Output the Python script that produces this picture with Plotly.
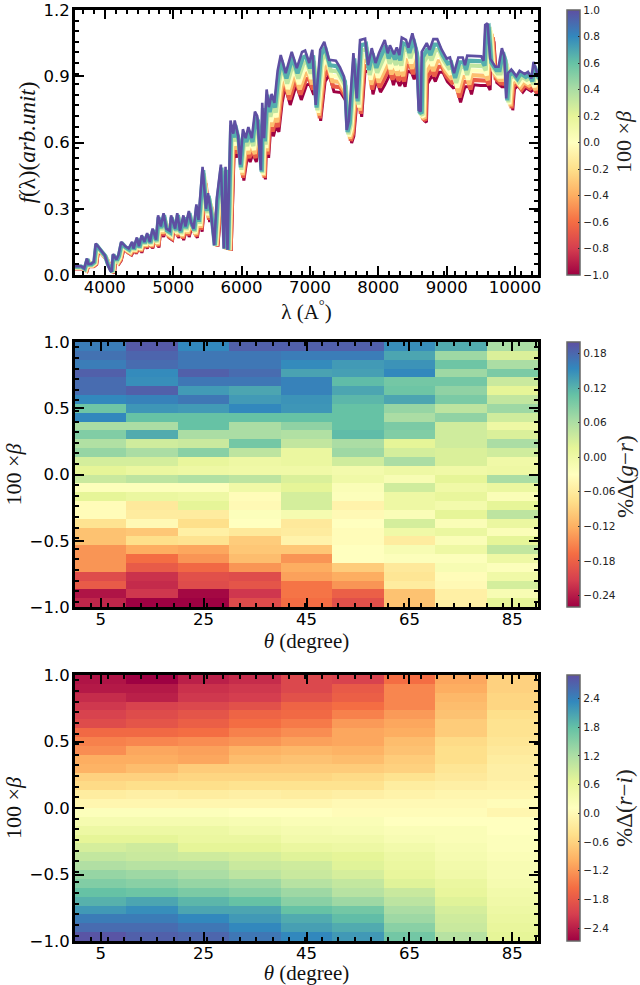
import plotly.graph_objects as go
from plotly.colors import sample_colorscale

spectral = ["#9e0142","#d53e4f","#f46d43","#fdae61","#fee08b","#ffffbf","#e6f598","#abdda4","#66c2a5","#3288bd","#5e4fa2"]
cs = [[i/10, c] for i, c in enumerate(spectral)]

betas = [1.0, 0.667, 0.333, 0.0, -0.333, -0.667, -1.0]

wave_p100 = [3520,3650,3700,3740,3760,3800,3840,3868,3900,3950,4000,4040,4080,4100,4120,4170,4200,4240,4300,4350,4400,4420,4470,4500,4540,4580,4620,4660,4700,4750,4780,4820,4860,4900,4950,4970,5030,5060,5100,5150,5180,5230,5260,5300,5340,5370,5400,5430,5480,5510,5550,5600,5640,5698,5741,5766,5795,5839,5880,5900,5950,5980,6020,6060,6100,6150,6196,6230,6283,6303,6330,6367,6400,6440,6480,6528,6573,6646,6734,6808,6885,6930,6990,7035,7085,7150,7210,7280,7380,7440,7500,7538,7570,7636,7685,7733,7807,7850,7904,7960,8010,8094,8138,8170,8230,8270,8308,8343,8405,8440,8498,8552,8590,8620,8635,8708,8750,8805,8862,8927,9000,9048,9107,9170,9234,9267,9300,9400,9505,9539,9563,9597,9636,9710,9758,9807,9842,9870,9895,9945,10018,10066,10140,10188,10237,10270,10335]
flux_p100 = [.040,.040,.030,.075,.050,.050,.060,.143,.130,.110,.090,.050,.020,.015,.095,.070,.090,.150,.130,.120,.150,.120,.170,.130,.180,.150,.190,.150,.210,.160,.270,.220,.280,.210,.200,.270,.210,.280,.200,.270,.220,.290,.240,.210,.320,.250,.370,.490,.300,.370,.290,.135,.350,.500,.120,.490,.115,.700,.640,.700,.630,.500,.660,.620,.670,.620,.740,.720,.475,.780,.620,.840,.760,.820,.780,.925,.996,.914,1.010,.937,1.010,1.016,.960,1.020,.770,1.020,1.056,.974,.970,.940,.898,.657,.700,1.005,.800,1.064,1.070,.950,1.027,.960,1.005,1.064,1.004,1.040,1.000,1.030,.996,1.075,1.065,1.030,1.094,1.027,.747,.740,1.010,1.050,1.020,1.068,1.068,1.020,.980,.985,.914,.985,.985,.950,.993,.990,.990,.970,1.132,1.140,.980,.943,.943,1.027,.990,.800,.914,.930,.900,.925,.910,.920,.890,.965,.900]

wave_p067 = [3527,3657,3707,3747,3767,3807,3847,3875,3907,3957,4007,4047,4087,4107,4127,4177,4207,4247,4307,4357,4407,4427,4477,4507,4547,4587,4627,4667,4707,4757,4787,4827,4867,4907,4957,4977,5039,5069,5109,5159,5189,5239,5269,5309,5349,5379,5409,5439,5489,5519,5559,5609,5649,5707,5750,5775,5804,5848,5889,5909,5959,5989,6031,6071,6111,6161,6207,6241,6294,6314,6341,6378,6411,6451,6491,6539,6584,6657,6745,6819,6896,6941,7001,7047,7097,7162,7222,7292,7392,7452,7512,7550,7582,7648,7697,7745,7819,7862,7916,7972,8024,8108,8152,8184,8244,8284,8322,8357,8419,8454,8512,8566,8604,8634,8649,8722,8764,8819,8876,8941,9016,9064,9123,9186,9250,9283,9316,9416,9521,9555,9579,9613,9652,9726,9774,9823,9858,9886,9911,9961,10034,10082,10156,10204,10253,10286,10351]
flux_p067 = [.038,.038,.028,.072,.048,.048,.058,.138,.125,.106,.086,.048,.019,.014,.091,.067,.086,.145,.125,.115,.145,.116,.164,.125,.174,.145,.183,.145,.203,.154,.261,.212,.271,.203,.193,.261,.203,.271,.193,.261,.212,.280,.232,.203,.309,.241,.358,.475,.290,.358,.280,.134,.338,.486,.119,.476,.114,.678,.622,.678,.612,.488,.640,.602,.650,.602,.716,.698,.468,.756,.605,.816,.738,.796,.758,.901,.972,.890,.985,.913,.985,.991,.936,.995,.758,.996,1.031,.950,.946,.916,.876,.647,.688,.981,.786,1.040,1.046,.928,1.003,.938,.981,1.039,.980,1.016,.976,1.006,.972,1.050,1.040,1.006,1.069,1.003,.739,.732,.986,1.026,.996,1.043,1.043,.996,.958,.963,.892,.963,.963,.928,.971,.968,.968,.948,1.118,1.125,.962,.928,.928,1.008,.972,.791,.902,.918,.888,.912,.897,.907,.877,.945,.888]

wave_p033 = [3534,3664,3714,3754,3774,3814,3854,3882,3914,3964,4014,4054,4094,4114,4134,4184,4214,4254,4314,4364,4414,4434,4484,4514,4554,4594,4634,4674,4714,4764,4794,4834,4874,4914,4964,4984,5048,5078,5118,5168,5198,5248,5278,5318,5358,5388,5418,5448,5498,5528,5568,5618,5658,5716,5759,5784,5813,5857,5898,5918,5968,5998,6042,6082,6122,6172,6218,6252,6305,6325,6352,6389,6422,6462,6502,6550,6595,6668,6756,6830,6907,6952,7012,7059,7109,7174,7234,7304,7404,7464,7524,7562,7594,7660,7709,7757,7831,7874,7928,7984,8038,8122,8166,8198,8258,8298,8336,8371,8433,8468,8526,8580,8618,8648,8663,8736,8778,8833,8890,8955,9032,9080,9139,9202,9266,9299,9332,9432,9537,9571,9595,9629,9668,9742,9790,9839,9874,9902,9927,9977,10050,10098,10172,10220,10269,10302,10367]
flux_p033 = [.036,.036,.026,.069,.046,.046,.056,.133,.120,.102,.082,.046,.018,.013,.087,.064,.082,.140,.120,.110,.140,.112,.158,.120,.168,.140,.176,.140,.196,.148,.252,.204,.262,.196,.186,.252,.196,.262,.186,.252,.204,.270,.224,.196,.298,.232,.346,.460,.280,.346,.270,.133,.326,.472,.118,.462,.113,.656,.604,.656,.594,.476,.620,.584,.630,.584,.692,.676,.461,.732,.590,.792,.716,.772,.736,.877,.948,.866,.960,.889,.960,.966,.912,.970,.746,.972,1.006,.926,.922,.892,.854,.637,.676,.957,.772,1.016,1.022,.906,.979,.916,.957,1.014,.956,.992,.952,.982,.948,1.025,1.015,.982,1.044,.979,.731,.724,.962,1.002,.972,1.018,1.018,.972,.936,.941,.870,.941,.941,.906,.949,.946,.946,.926,1.104,1.110,.944,.913,.913,.989,.954,.782,.890,.906,.876,.899,.884,.894,.864,.925,.876]

wave_000 = [3541,3671,3721,3761,3781,3821,3861,3889,3921,3971,4021,4061,4101,4121,4141,4191,4221,4261,4321,4371,4421,4441,4491,4521,4561,4601,4641,4681,4721,4771,4801,4841,4881,4921,4971,4991,5057,5087,5127,5177,5207,5257,5287,5327,5367,5397,5427,5457,5507,5537,5577,5627,5667,5725,5768,5793,5822,5866,5907,5927,5977,6007,6053,6093,6133,6183,6229,6263,6316,6336,6363,6400,6433,6473,6513,6561,6606,6679,6767,6841,6918,6963,7023,7071,7121,7186,7246,7316,7416,7476,7536,7574,7606,7672,7721,7769,7843,7886,7940,7996,8052,8136,8180,8212,8272,8312,8350,8385,8447,8482,8540,8594,8632,8662,8677,8750,8792,8847,8904,8969,9048,9096,9155,9218,9282,9315,9348,9448,9553,9587,9611,9645,9684,9758,9806,9855,9890,9918,9943,9993,10066,10114,10188,10236,10285,10318,10383]
flux_000 = [.034,.034,.024,.066,.044,.044,.054,.128,.115,.098,.078,.044,.017,.012,.083,.061,.078,.135,.115,.105,.135,.108,.152,.115,.162,.135,.169,.135,.189,.142,.243,.196,.253,.189,.179,.243,.189,.253,.179,.243,.196,.260,.216,.189,.287,.223,.334,.445,.270,.334,.260,.132,.314,.458,.117,.448,.112,.634,.586,.634,.576,.464,.600,.566,.610,.566,.668,.654,.454,.708,.575,.768,.694,.748,.714,.853,.924,.842,.935,.865,.935,.941,.888,.945,.734,.948,.981,.902,.898,.868,.832,.627,.664,.933,.758,.992,.998,.884,.955,.894,.933,.989,.932,.968,.928,.958,.924,1.000,.990,.958,1.019,.955,.723,.716,.938,.978,.948,.993,.993,.948,.914,.919,.848,.919,.919,.884,.927,.924,.924,.904,1.090,1.095,.926,.898,.898,.970,.936,.773,.878,.894,.864,.886,.871,.881,.851,.905,.864]

wave_m033 = [3548,3678,3728,3768,3788,3828,3868,3896,3928,3978,4028,4068,4108,4128,4148,4198,4228,4268,4328,4378,4428,4448,4498,4528,4568,4608,4648,4688,4728,4778,4808,4848,4888,4928,4978,4998,5066,5096,5136,5186,5216,5266,5296,5336,5376,5406,5436,5466,5516,5546,5586,5636,5676,5734,5777,5802,5831,5875,5916,5936,5986,6016,6064,6104,6144,6194,6240,6274,6327,6347,6374,6411,6444,6484,6524,6572,6617,6690,6778,6852,6929,6974,7034,7083,7133,7198,7258,7328,7428,7488,7548,7586,7618,7684,7733,7781,7855,7898,7952,8008,8066,8150,8194,8226,8286,8326,8364,8399,8461,8496,8554,8608,8646,8676,8691,8764,8806,8861,8918,8983,9064,9112,9171,9234,9298,9331,9364,9464,9569,9603,9627,9661,9700,9774,9822,9871,9906,9934,9959,10009,10082,10130,10204,10252,10301,10334,10399]
flux_m033 = [.032,.032,.022,.063,.042,.042,.052,.123,.110,.094,.074,.042,.016,.011,.079,.058,.074,.130,.110,.100,.130,.104,.146,.110,.156,.130,.162,.130,.182,.136,.234,.188,.244,.182,.172,.234,.182,.244,.172,.234,.188,.250,.208,.182,.276,.214,.322,.430,.260,.322,.250,.131,.302,.444,.116,.434,.111,.612,.568,.612,.558,.452,.580,.548,.590,.548,.644,.632,.447,.684,.560,.744,.672,.724,.692,.829,.900,.818,.910,.841,.910,.916,.864,.920,.722,.924,.956,.878,.874,.844,.810,.617,.652,.909,.744,.968,.974,.862,.931,.872,.909,.964,.908,.944,.904,.934,.900,.975,.965,.934,.994,.931,.715,.708,.914,.954,.924,.968,.968,.924,.892,.897,.826,.897,.897,.862,.905,.902,.902,.882,1.076,1.080,.908,.883,.883,.951,.918,.764,.866,.882,.852,.873,.858,.868,.838,.885,.852]

wave_m067 = [3555,3685,3735,3775,3795,3835,3875,3903,3935,3985,4035,4075,4115,4135,4155,4205,4235,4275,4335,4385,4435,4455,4505,4535,4575,4615,4655,4695,4735,4785,4815,4855,4895,4935,4985,5005,5075,5105,5145,5195,5225,5275,5305,5345,5385,5415,5445,5475,5525,5555,5595,5645,5685,5743,5786,5811,5840,5884,5925,5945,5995,6025,6075,6115,6155,6205,6251,6285,6338,6358,6385,6422,6455,6495,6535,6583,6628,6701,6789,6863,6940,6985,7045,7095,7145,7210,7270,7340,7440,7500,7560,7598,7630,7696,7745,7793,7867,7910,7964,8020,8080,8164,8208,8240,8300,8340,8378,8413,8475,8510,8568,8622,8660,8690,8705,8778,8820,8875,8932,8997,9080,9128,9187,9250,9314,9347,9380,9480,9585,9619,9643,9677,9716,9790,9838,9887,9922,9950,9975,10025,10098,10146,10220,10268,10317,10350,10415]
flux_m067 = [.030,.030,.020,.060,.040,.040,.050,.118,.105,.090,.070,.040,.015,.010,.075,.055,.070,.125,.105,.095,.125,.100,.140,.105,.150,.125,.155,.125,.175,.130,.225,.180,.235,.175,.165,.225,.175,.235,.165,.225,.180,.240,.200,.175,.265,.205,.310,.415,.250,.310,.240,.130,.290,.430,.115,.420,.110,.590,.550,.590,.540,.440,.560,.530,.570,.530,.620,.610,.440,.660,.545,.720,.650,.700,.670,.805,.876,.794,.885,.817,.885,.891,.840,.895,.710,.900,.931,.854,.850,.820,.788,.607,.640,.885,.730,.944,.950,.840,.907,.850,.885,.939,.884,.920,.880,.910,.876,.950,.940,.910,.969,.907,.707,.700,.890,.930,.900,.943,.943,.900,.870,.875,.804,.875,.875,.840,.883,.880,.880,.860,1.062,1.065,.890,.868,.868,.932,.900,.755,.854,.870,.840,.860,.845,.855,.825,.865,.840]

wave_m100 = [3562,3692,3742,3782,3802,3842,3882,3910,3942,3992,4042,4082,4122,4142,4162,4212,4242,4282,4342,4392,4442,4462,4512,4542,4582,4622,4662,4702,4742,4792,4822,4862,4902,4942,4992,5012,5084,5114,5154,5204,5234,5284,5314,5354,5394,5424,5454,5484,5534,5564,5604,5654,5694,5752,5795,5820,5849,5893,5934,5954,6004,6034,6086,6126,6166,6216,6262,6296,6349,6369,6396,6433,6466,6506,6546,6594,6639,6712,6800,6874,6951,6996,7056,7107,7157,7222,7282,7352,7452,7512,7572,7610,7642,7708,7757,7805,7879,7922,7976,8032,8094,8178,8222,8254,8314,8354,8392,8427,8489,8524,8582,8636,8674,8704,8719,8792,8834,8889,8946,9011,9096,9144,9203,9266,9330,9363,9396,9496,9601,9635,9659,9693,9732,9806,9854,9903,9938,9966,9991,10041,10114,10162,10236,10284,10333,10366,10431]
flux_m100 = [.028,.028,.018,.057,.038,.038,.048,.113,.100,.086,.066,.038,.014,.009,.071,.052,.066,.120,.100,.090,.120,.096,.134,.100,.144,.120,.148,.120,.168,.124,.216,.172,.226,.168,.158,.216,.168,.226,.158,.216,.172,.230,.192,.168,.254,.196,.298,.400,.240,.298,.230,.129,.278,.416,.114,.406,.109,.568,.532,.568,.522,.428,.540,.512,.550,.512,.596,.588,.433,.636,.530,.696,.628,.676,.648,.781,.852,.770,.860,.793,.860,.866,.816,.870,.698,.876,.906,.830,.826,.796,.766,.597,.628,.861,.716,.920,.926,.818,.883,.828,.861,.914,.860,.896,.856,.886,.852,.925,.915,.886,.944,.883,.699,.692,.866,.906,.876,.918,.918,.876,.848,.853,.782,.853,.853,.818,.861,.858,.858,.838,1.048,1.050,.872,.853,.853,.913,.882,.746,.842,.858,.828,.847,.832,.842,.812,.845,.828]

waves = [wave_p100, wave_p067, wave_p033, wave_000, wave_m033, wave_m067, wave_m100]
fluxes = [flux_p100, flux_p067, flux_p033, flux_000, flux_m033, flux_m067, flux_m100]
for w, f in zip(waves, fluxes):
    assert len(w) == len(f), (len(w), len(f))

theta = [5, 15, 25, 35, 45, 55, 65, 75, 85]

# rows listed from the top of the panel (beta near +1) to the bottom
delta_gr = [
[.163,.191,.154,.186,.186,.186,.149,.126,.062],
[.172,.182,.168,.168,.163,.163,.131,.071,.025],
[.163,.177,.168,.168,.152,.140,.145,.103,.062],
[.186,.152,.186,.177,.133,.136,.154,.071,.094],
[.177,.149,.168,.168,.159,.113,.099,.099,.039],
[.177,.186,.140,.131,.159,.131,.103,.080,.016],
[.154,.159,.168,.140,.145,.117,.131,.094,.044],
[.103,.143,.140,.154,.143,.108,.076,.048,.071],
[.154,.108,.108,.108,.108,.108,.062,.080,.034],
[.062,.062,.108,.062,.080,.108,.094,.034,.002],
[.090,.126,.062,.062,.057,.113,.090,.034,.025],
[.057,.034,.039,.099,.044,.062,.016,.034,.062],
[.076,.062,.085,.048,.007,.071,.030,.025,.034],
[.030,.030,.011,.002,.007,.034,.062,.025,-.002],
[.016,.007,.002,-.002,-.002,-.007,.002,-.002,.002],
[.039,.048,.057,.048,.025,-.002,-.016,.016,.062],
[-.025,-.025,-.025,-.002,.016,-.021,.034,-.002,.007],
[.016,.007,.002,-.035,.030,-.025,.002,.011,-.021],
[-.035,-.062,.016,-.039,.030,-.048,.002,-.007,.016],
[-.035,-.058,-.058,-.025,-.012,-.039,-.021,.016,.048],
[-.071,-.039,-.076,-.030,-.062,-.030,.030,-.021,.007],
[-.104,-.099,-.053,-.062,-.058,-.035,-.002,.007,-.021],
[-.104,-.076,-.071,-.094,-.048,-.035,-.058,-.021,.016],
[-.140,-.122,-.127,-.099,-.099,-.030,-.016,.002,.044],
[-.140,-.168,-.140,-.108,-.140,-.030,-.025,-.025,.002],
[-.140,-.186,-.173,-.140,-.122,-.094,-.062,-.016,-.025],
[-.200,-.223,-.196,-.200,-.131,-.122,-.067,-.035,-.002],
[-.186,-.228,-.200,-.191,-.163,-.140,-.058,-.039,.030],
[-.246,-.219,-.255,-.219,-.163,-.182,-.104,-.053,-.016],
[-.232,-.260,-.260,-.200,-.168,-.196,-.104,-.053,.016],
]

delta_ri = [
[-2.50,-2.67,-2.39,-2.28,-2.00,-2.06,-1.56,-1.06,-.61],
[-2.45,-2.45,-2.23,-2.17,-2.00,-1.78,-1.34,-1.00,-.61],
[-2.28,-2.39,-2.17,-2.11,-1.89,-1.72,-1.34,-.89,-.56],
[-2.17,-2.06,-2.00,-1.89,-1.67,-1.56,-1.34,-.84,-.56],
[-2.06,-1.95,-1.84,-1.67,-1.61,-1.39,-1.17,-.78,-.45],
[-1.95,-1.84,-1.72,-1.56,-1.45,-1.17,-1.06,-.67,-.39],
[-1.61,-1.61,-1.56,-1.39,-1.28,-1.06,-1.00,-.67,-.39],
[-1.39,-1.34,-1.28,-1.22,-1.11,-1.06,-.84,-.50,-.34],
[-1.28,-1.06,-1.11,-.95,-.89,-.95,-.78,-.45,-.28],
[-1.00,-1.00,-1.06,-.84,-.78,-.84,-.67,-.45,-.22],
[-.95,-.84,-.67,-.67,-.67,-.67,-.61,-.34,-.17],
[-.61,-.61,-.56,-.56,-.56,-.50,-.39,-.28,-.17],
[-.50,-.45,-.45,-.39,-.39,-.39,-.22,-.17,-.11],
[-.22,-.17,-.22,-.17,-.22,-.17,-.11,-.06,-.06],
[-.06,-.06,-.06,-.06,-.06,0,0,0,.05],
[.17,.17,.17,.11,.11,.05,.05,.05,-.06],
[.33,.33,.33,.28,.22,.22,.11,.11,.11],
[.50,.50,.50,.39,.33,.28,.22,.22,.11],
[.67,.67,.55,.55,.39,.39,.28,.22,.17],
[.83,.89,.67,.67,.55,.50,.39,.28,.17],
[1.00,.94,.89,.83,.72,.67,.50,.33,.22],
[1.17,1.11,1.11,.94,.89,.72,.55,.39,.28],
[1.39,1.33,1.22,1.06,.94,.83,.61,.44,.28],
[1.56,1.50,1.39,1.33,1.11,1.00,.72,.55,.33],
[1.78,1.72,1.61,1.50,1.33,1.11,.94,.61,.39],
[1.94,2.06,1.89,1.78,1.50,1.33,1.06,.72,.44],
[2.17,2.28,2.06,2.06,1.78,1.67,1.22,.83,.50],
[2.45,2.45,2.33,2.17,2.00,1.83,1.33,.89,.55],
[2.61,2.61,2.50,2.33,2.11,2.00,1.50,.94,.61],
[2.83,2.72,2.67,2.50,2.33,2.17,1.67,1.11,.67],
]

W, H = 640, 985
SERIF = "Liberation Serif"
SANS = "DejaVu Sans"

fig = go.Figure()

widths = [2.6, 4.2, 4.2, 4.2, 4.2, 4.2, 3.0]
order = list(range(len(betas)))[::-1]
for i in order:
    col = sample_colorscale(cs, [(betas[i] + 1) / 2])[0]
    fig.add_trace(go.Scatter(x=waves[i], y=fluxes[i], mode="lines", xaxis="x", yaxis="y",
                             line=dict(color=col, width=widths[i]), showlegend=False, hoverinfo="skip"))

def cbar(top, bottom, vals, fmt):
    return dict(x=567/W, xanchor="left", y=1-bottom/H, yanchor="bottom", len=(bottom-top)/H, lenmode="fraction",
                thickness=13, thicknessmode="pixels", tickvals=vals, tickformat=fmt,
                ticks="inside", ticklen=2, tickwidth=1, tickcolor="#222",
                outlinecolor="#666", outlinewidth=1.5,
                tickfont=dict(family=SANS, size=10.5, color="#222"), xpad=0, ypad=0)

fig.add_trace(go.Scatter(x=[None], y=[None], mode="markers", xaxis="x", yaxis="y", showlegend=False,
                         marker=dict(color=[0], cmin=-1, cmax=1, colorscale=cs, showscale=True,
                                     colorbar=cbar(10, 275, [-1,-.8,-.6,-.4,-.2,0,.2,.4,.6,.8,1], ".1f"))))

fig.add_trace(go.Heatmap(z=delta_gr[::-1], x=theta, y0=-29/30, dy=2/30, xaxis="x2", yaxis="y2",
                         colorscale=cs, zmin=-.26, zmax=.20, hoverinfo="skip",
                         colorbar=cbar(342, 607, [-.24,-.18,-.12,-.06,0,.06,.12,.18], ".2f")))
fig.add_trace(go.Heatmap(z=delta_ri[::-1], x=theta, y0=-29/30, dy=2/30, xaxis="x3", yaxis="y3",
                         colorscale=cs, zmin=-2.67, zmax=2.89, hoverinfo="skip",
                         colorbar=cbar(675, 941, [-2.4,-1.8,-1.2,-.6,0,.6,1.2,1.8,2.4], ".1f")))

def xax(rng, ticks, tick_minor, title, standoff, anchor):
    return dict(domain=[75/W, 538/W], range=rng, anchor=anchor, tickmode="array", tickvals=ticks,
                ticktext=[str(t) for t in ticks], ticks="inside", ticklen=9, tickwidth=2, tickcolor="black",
                minor=dict(ticks="inside", ticklen=4, tickwidth=1.5, tickcolor="black", tick0=0, dtick=tick_minor, showgrid=False),
                showline=True, linewidth=3, linecolor="black", mirror="allticks", showgrid=False, zeroline=False,
                tickfont=dict(family=SANS, size=16.5, color="black"), ticklabelstandoff=-5,
                title=dict(text=title, standoff=standoff, font=dict(family=SERIF, size=21, color="#111")))

def yax(rng, top, bottom, ticks, labels, tick_minor, title, standoff, anchor, tsize):
    return dict(domain=[1-bottom/H, 1-top/H], range=rng, anchor=anchor, tickmode="array", tickvals=ticks,
                ticktext=labels, ticks="inside", ticklen=9, tickwidth=2, tickcolor="black",
                minor=dict(ticks="inside", ticklen=4, tickwidth=1.5, tickcolor="black", tick0=0, dtick=tick_minor, showgrid=False),
                showline=True, linewidth=3, linecolor="black", mirror="allticks", showgrid=False, zeroline=False,
                tickfont=dict(family=SANS, size=16.5, color="black"), ticklabelstandoff=-1,
                title=dict(text=title, standoff=standoff, font=dict(family=SERIF, size=tsize, color="#111")))

beta_ticks = [-1, -.5, 0, .5, 1]
beta_labels = ["\u22121.0", "\u22120.5", "0.0", "0.5", "1.0"]

def cb_title(text, px, py, size):
    return dict(text=text, x=px/W, y=1-py/H, xref="paper", yref="paper", xanchor="center", yanchor="middle",
                showarrow=False, textangle=-90, font=dict(family=SERIF, size=size, color="#222"))

fig.update_layout(
    width=W, height=H, autosize=False, margin=dict(l=0, r=0, t=0, b=0, autoexpand=False),
    paper_bgcolor="white", plot_bgcolor="white", showlegend=False,
    xaxis=xax([3565, 10335], [4000,5000,6000,7000,8000,9000,10000], 160, "\u03bb\u00a0(A<sup>\u00b0</sup>)", 4, "y"),
    yaxis=yax([0, 1.2], 10, 275, [0,.3,.6,.9,1.2], ["0.0","0.3","0.6","0.9","1.2"], .048, "<i>f</i>(\u03bb)(<i>arb.unit</i>)", 2, "x", 23),
    xaxis2=xax([0, 90], [5,25,45,65,85], 3.2, "<i>\u03b8</i> (degree)", 4, "y2"),
    yaxis2=yax([-1, 1], 342, 607, beta_ticks, beta_labels, .08, "100 \u00d7<i>\u03b2</i>", 2, "x2", 22),
    xaxis3=xax([0, 90], [5,25,45,65,85], 3.2, "<i>\u03b8</i> (degree)", 4, "y3"),
    yaxis3=yax([-1, 1], 675, 941, beta_ticks, beta_labels, .08, "100 \u00d7<i>\u03b2</i>", 2, "x3", 22),
    annotations=[
        cb_title("100 \u00d7<i>\u03b2</i>", 623, 142, 22),
        cb_title("%\u0394(<i>g</i>\u2212<i>r</i>)", 626, 477, 23),
        cb_title("%\u0394(<i>r</i>\u2212<i>i</i>)", 624, 808, 23),
    ],
)

fig.write_html("out.html", config={"displayModeBar": False}, post_script="document.body.style.margin='0';")
